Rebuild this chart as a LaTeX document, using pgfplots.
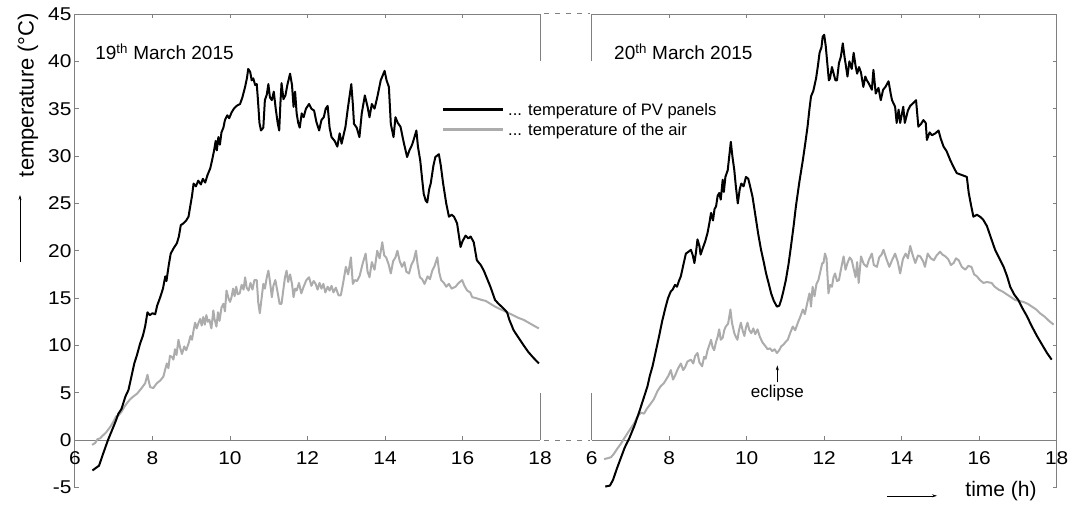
\documentclass[border=0pt]{standalone}
\usepackage{pgfplots}
\usepackage{pgfplotstable}
\pgfplotsset{compat=1.18}
\usepackage{fontspec}
\setmainfont{Liberation Sans}
\newfontfamily\tickfont[FakeStretch=1.13]{Liberation Sans}
\usetikzlibrary{arrows.meta}

\definecolor{framegray}{RGB}{128,128,128}
\definecolor{airgray}{RGB}{172,172,172}

% 19 March 2015: temperature of the PV panels
\pgfplotstableread{
t T
6.45 -3.2
6.55 -2.9
6.62 -2.7
6.72 -1.5
6.85 0.0
6.95 1.0
7.05 2.0
7.12 2.8
7.20 3.3
7.30 4.6
7.38 5.3
7.45 6.6
7.53 8.1
7.60 9.0
7.68 10.2
7.75 11.0
7.81 12.0
7.87 13.5
7.93 13.2
8.00 13.4
8.07 13.3
8.12 14.2
8.20 15.1
8.27 16.0
8.33 17.3
8.36 16.8
8.42 18.5
8.47 19.7
8.55 20.3
8.63 20.8
8.68 21.5
8.73 22.7
8.80 22.9
8.87 23.2
8.93 23.6
8.97 24.6
9.02 25.8
9.06 27.1
9.12 26.8
9.18 27.4
9.25 27.0
9.30 27.6
9.36 27.2
9.42 28.0
9.49 28.7
9.54 29.6
9.59 30.6
9.63 31.6
9.66 30.6
9.70 32.0
9.74 31.2
9.78 32.5
9.83 33.0
9.87 33.8
9.93 34.3
9.98 34.0
10.04 34.6
10.10 35.0
10.17 35.3
10.26 35.5
10.32 36.2
10.39 37.3
10.44 38.3
10.47 39.2
10.52 38.9
10.56 38.0
10.60 38.2
10.65 37.5
10.69 37.6
10.72 36.0
10.76 33.5
10.80 32.7
10.86 33.0
10.90 35.9
10.95 36.5
10.99 37.6
11.03 36.2
11.08 35.9
11.13 36.8
11.18 35.0
11.23 33.5
11.27 32.7
11.30 35.5
11.33 37.7
11.38 36.0
11.43 36.4
11.48 37.5
11.55 38.7
11.60 37.5
11.64 35.2
11.68 36.8
11.72 34.5
11.76 33.5
11.80 33.0
11.85 34.5
11.90 34.1
11.96 35.0
12.04 35.5
12.10 35.0
12.17 34.8
12.23 33.6
12.30 32.7
12.36 33.8
12.42 34.1
12.47 35.0
12.52 35.3
12.57 33.0
12.62 32.0
12.70 31.6
12.77 31.0
12.83 32.4
12.88 31.3
12.93 32.2
12.98 33.1
13.04 35.0
13.13 37.6
13.17 35.5
13.20 33.4
13.27 33.0
13.34 32.0
13.40 34.5
13.48 36.4
13.55 35.2
13.60 34.1
13.66 35.5
13.73 35.0
13.80 36.2
13.89 38.0
13.94 38.5
13.99 39.0
14.04 38.0
14.10 37.3
14.15 33.4
14.22 32.0
14.27 34.1
14.33 33.5
14.40 33.1
14.48 31.5
14.57 29.9
14.63 30.6
14.70 31.2
14.76 32.0
14.81 32.7
14.85 31.0
14.91 29.5
14.96 27.5
15.00 26.0
15.05 25.3
15.09 25.1
15.14 26.5
15.18 27.1
15.25 29.0
15.30 29.9
15.39 30.2
15.44 29.0
15.50 27.1
15.58 25.0
15.65 23.6
15.72 23.8
15.78 23.6
15.86 22.9
15.95 20.4
16.00 21.0
16.08 21.6
16.15 21.3
16.21 21.5
16.29 20.9
16.37 19.0
16.47 18.5
16.55 17.9
16.64 17.0
16.72 16.2
16.84 14.8
16.93 14.4
17.06 13.9
17.15 13.5
17.21 12.7
17.32 11.6
17.45 10.8
17.58 10.0
17.70 9.3
17.83 8.7
17.97 8.1
}\pvA

% 19 March 2015: temperature of the air
\pgfplotstableread{
t T
6.44 -0.5
6.52 -0.3
6.58 0.1
6.65 0.2
6.72 0.5
6.80 0.8
6.91 1.4
7.00 2.0
7.06 2.5
7.12 2.6
7.20 3.0
7.27 3.5
7.34 3.9
7.42 4.3
7.50 4.6
7.60 4.9
7.70 5.4
7.81 6.0
7.87 6.9
7.90 6.3
7.94 5.6
8.02 5.5
8.11 6.0
8.20 6.3
8.28 6.7
8.33 7.5
8.37 8.1
8.41 7.6
8.45 8.9
8.50 8.8
8.54 8.5
8.58 9.6
8.62 9.0
8.67 10.6
8.71 9.8
8.76 9.1
8.82 9.9
8.87 9.5
8.93 10.2
8.98 11.0
9.02 10.6
9.06 11.6
9.10 12.4
9.14 11.8
9.18 12.3
9.23 12.8
9.27 12.1
9.31 13.0
9.35 12.2
9.39 13.2
9.43 12.5
9.47 12.7
9.52 11.8
9.57 13.7
9.60 12.8
9.65 12.0
9.69 13.5
9.73 12.6
9.78 14.0
9.83 14.4
9.87 13.6
9.91 15.8
9.96 15.0
10.00 14.6
10.04 15.1
10.08 16.0
10.12 15.2
10.16 16.2
10.20 15.4
10.25 15.5
10.30 16.4
10.35 15.9
10.39 17.2
10.43 16.1
10.48 15.8
10.53 16.6
10.58 15.9
10.63 16.9
10.69 16.9
10.73 14.5
10.77 13.4
10.81 14.8
10.86 16.5
10.90 16.0
10.95 17.2
10.99 17.9
11.03 16.8
11.08 15.1
11.12 16.3
11.17 16.9
11.22 15.8
11.28 14.4
11.33 14.4
11.38 16.0
11.42 17.2
11.46 17.9
11.50 16.7
11.55 17.5
11.60 16.5
11.64 15.1
11.68 16.0
11.72 15.8
11.78 16.6
11.84 15.5
11.90 16.2
11.97 16.9
12.04 17.2
12.10 16.3
12.16 16.8
12.21 16.5
12.26 15.9
12.31 16.6
12.36 16.0
12.41 16.5
12.46 15.6
12.52 16.2
12.57 15.8
12.62 16.3
12.67 15.6
12.73 16.1
12.80 15.3
12.86 15.3
12.92 16.6
12.99 18.3
13.05 17.5
13.12 19.3
13.17 16.5
13.22 16.9
13.28 16.8
13.35 17.4
13.42 18.6
13.50 19.7
13.55 17.8
13.60 17.2
13.66 18.8
13.73 18.0
13.80 20.0
13.86 19.2
13.93 20.9
13.98 19.5
14.03 19.3
14.09 18.6
14.15 17.6
14.21 18.9
14.27 19.3
14.32 20.0
14.38 18.9
14.44 18.3
14.50 18.8
14.55 17.8
14.62 17.6
14.68 18.5
14.74 19.0
14.80 20.0
14.84 18.6
14.90 17.2
14.96 17.0
15.02 16.5
15.10 17.3
15.16 17.0
15.22 17.9
15.28 18.4
15.35 19.3
15.40 17.7
15.45 16.9
15.52 16.6
15.58 16.2
15.65 16.5
15.72 16.0
15.82 16.2
15.90 16.6
15.99 16.9
16.05 16.3
16.12 15.8
16.20 15.6
16.25 15.1
16.35 15.0
16.50 14.8
16.60 14.7
16.72 14.4
16.84 14.1
16.94 13.9
17.05 13.7
17.15 13.5
17.30 13.2
17.45 12.9
17.58 12.7
17.75 12.3
17.88 12.0
17.97 11.8
}\airA

% 20 March 2015: temperature of the PV panels
\pgfplotstableread{
t T
6.35 -4.9
6.47 -4.8
6.55 -4.2
6.65 -3.0
6.75 -1.9
6.85 -0.8
6.97 0.2
7.10 1.5
7.22 2.9
7.33 4.3
7.44 5.7
7.50 6.8
7.57 7.8
7.65 9.3
7.74 11.0
7.82 12.6
7.91 14.1
7.97 15.0
8.04 15.7
8.09 15.9
8.15 16.4
8.20 16.2
8.25 16.8
8.30 17.3
8.37 18.6
8.43 19.7
8.50 19.9
8.56 20.1
8.61 19.5
8.65 18.7
8.69 19.8
8.73 21.2
8.78 20.5
8.81 19.6
8.86 20.2
8.93 21.0
8.99 21.9
9.04 23.0
9.08 24.0
9.13 23.2
9.17 24.4
9.21 24.7
9.25 25.8
9.29 26.1
9.33 25.4
9.38 27.5
9.41 26.2
9.45 27.8
9.51 28.5
9.55 30.0
9.59 31.5
9.63 30.0
9.68 28.5
9.72 26.8
9.77 25.0
9.82 26.5
9.86 27.1
9.92 26.8
9.98 27.8
10.04 27.6
10.10 26.6
10.15 25.7
10.24 23.3
10.30 21.7
10.37 20.1
10.44 18.8
10.50 17.6
10.57 16.5
10.63 15.5
10.70 14.7
10.78 14.1
10.84 14.2
10.89 14.8
10.95 15.8
11.01 16.9
11.08 18.6
11.14 20.4
11.21 22.6
11.27 24.7
11.36 27.3
11.45 29.6
11.51 31.3
11.57 33.1
11.62 35.0
11.66 36.3
11.72 36.9
11.79 38.2
11.84 39.6
11.88 40.9
11.93 41.5
11.96 42.6
12.00 42.8
12.04 41.6
12.08 39.8
12.12 38.0
12.15 38.2
12.20 39.4
12.25 38.6
12.29 38.0
12.33 38.0
12.38 39.8
12.43 40.5
12.48 41.9
12.52 40.6
12.55 39.8
12.60 38.4
12.65 40.0
12.71 39.2
12.76 40.9
12.81 39.5
12.85 38.7
12.90 39.4
12.95 38.8
13.01 37.3
13.06 38.4
13.10 38.0
13.16 37.6
13.23 37.0
13.27 39.1
13.33 36.6
13.40 37.2
13.46 35.9
13.52 37.0
13.58 37.3
13.66 37.9
13.72 36.5
13.75 35.9
13.83 35.2
13.87 33.5
13.92 34.9
13.96 33.5
14.04 35.2
14.08 33.5
14.16 34.8
14.22 35.3
14.30 35.6
14.37 35.9
14.43 33.1
14.50 33.4
14.56 33.8
14.62 33.5
14.65 31.7
14.72 32.5
14.78 32.2
14.87 32.4
14.95 32.7
15.01 31.8
15.08 31.0
15.16 30.5
15.25 29.6
15.33 28.9
15.42 28.2
15.55 28.0
15.68 27.8
15.73 26.1
15.79 24.8
15.85 23.6
15.94 23.8
16.02 23.6
16.10 23.3
16.20 22.6
16.30 21.4
16.41 20.1
16.52 19.2
16.63 18.3
16.72 17.3
16.80 16.2
16.90 15.4
17.01 14.8
17.12 13.9
17.23 13.1
17.36 12.0
17.49 11.0
17.62 10.1
17.75 9.2
17.87 8.5
}\pvB

% 20 March 2015: temperature of the air
\pgfplotstableread{
t T
6.32 -2.0
6.42 -1.9
6.50 -1.8
6.58 -1.4
6.66 -0.9
6.75 -0.4
6.84 0.2
6.92 0.7
7.00 1.2
7.10 1.8
7.18 2.5
7.27 2.9
7.35 2.8
7.42 3.3
7.53 3.9
7.60 4.3
7.70 5.2
7.78 5.7
7.86 6.0
7.92 6.4
7.98 6.8
8.04 7.4
8.10 6.4
8.16 6.9
8.22 7.5
8.30 8.1
8.36 7.4
8.41 7.7
8.47 8.3
8.56 8.5
8.62 8.1
8.67 8.9
8.73 9.2
8.78 8.2
8.85 7.8
8.90 8.8
8.94 8.6
8.99 9.5
9.04 10.1
9.08 10.6
9.12 9.8
9.16 9.5
9.21 10.4
9.25 10.9
9.29 11.7
9.33 10.6
9.38 10.8
9.42 11.6
9.46 12.0
9.52 12.3
9.58 13.8
9.62 12.4
9.68 11.3
9.72 10.9
9.76 10.6
9.80 11.6
9.85 12.4
9.90 11.5
9.94 11.0
9.98 11.9
10.02 12.4
10.07 11.6
10.12 11.3
10.17 11.8
10.22 11.2
10.28 11.7
10.34 10.9
10.41 10.3
10.47 10.0
10.54 9.6
10.60 9.7
10.66 9.4
10.72 9.6
10.78 9.2
10.84 9.5
10.89 9.9
10.95 10.1
11.01 10.4
11.06 10.6
11.12 11.3
11.19 12.0
11.25 11.6
11.32 12.4
11.38 13.0
11.45 13.8
11.50 13.3
11.58 14.8
11.62 15.5
11.66 14.1
11.70 16.2
11.75 15.2
11.80 16.5
11.85 16.9
11.90 17.8
11.95 18.7
11.98 18.7
12.02 19.7
12.06 19.2
12.11 15.5
12.15 16.4
12.20 16.2
12.24 17.2
12.28 17.6
12.33 16.8
12.38 16.9
12.44 18.2
12.50 19.4
12.55 18.0
12.60 18.7
12.66 19.3
12.71 19.0
12.76 18.1
12.81 17.2
12.85 18.8
12.89 16.6
12.95 19.4
13.02 18.6
13.10 18.3
13.15 19.0
13.23 19.7
13.28 18.5
13.36 18.3
13.42 19.3
13.48 19.6
13.53 20.1
13.60 19.2
13.68 18.3
13.75 19.0
13.83 19.7
13.90 18.8
13.96 17.6
14.03 19.1
14.10 19.7
14.16 19.2
14.22 20.5
14.28 19.6
14.35 18.7
14.42 19.5
14.48 19.4
14.55 18.9
14.60 18.3
14.67 19.7
14.75 19.2
14.83 19.0
14.90 19.5
14.99 19.9
15.05 19.6
15.13 19.4
15.20 19.1
15.27 18.5
15.34 18.7
15.40 19.2
15.47 19.0
15.55 18.3
15.64 18.0
15.72 18.4
15.80 18.3
15.87 17.5
15.94 17.3
16.02 16.9
16.11 16.6
16.20 16.7
16.32 16.6
16.40 16.2
16.50 15.9
16.60 15.7
16.71 15.4
16.82 15.1
16.93 14.8
17.04 14.7
17.14 14.6
17.25 14.4
17.36 14.1
17.47 13.8
17.57 13.4
17.70 13.0
17.80 12.6
17.92 12.2
}\airB

\tikzset{
  frame/.style={draw=framegray, line width=1pt},
  pv/.style={black, line width=2pt, line join=round},
  air/.style={airgray, line width=2pt, line join=round},
}

\pgfplotsset{
  day panel/.style={
    scale only axis, width=465pt, height=473.5pt,
    xmin=6, xmax=18, ymin=-5, ymax=45,
    axis x line=middle,
    tick style={draw=framegray, line width=1pt},
    major tick length=4pt,
    xtick={6,8,...,18}, ytick={-5,0,...,45},
    hide obscured x ticks=false, hide obscured y ticks=false,
    ticklabel style={font=\tickfont\fontsize{18.5}{20}\selectfont, black},
    xticklabel style={yshift=-8pt},
    /pgf/number format/assume math mode=true,
    clip=false,
  },
  plain lines/.style={
    axis line style={draw=framegray, line width=1pt, -},
    x axis line style={-},
    y axis line style={-},
    every inner x axis line/.append style={-},
    every outer x axis line/.append style={-},
    every inner y axis line/.append style={-},
    every outer y axis line/.append style={-},
    xtick align=inside, ytick align=inside,
  },
}

\begin{document}
\begin{tikzpicture}
\path[use as bounding box] (-75pt,-16.5pt) rectangle (995pt,487.5pt);

% ---- 19 March 2015 ----
\begin{axis}[day panel, at={(0pt,0pt)}, anchor=south west,
  axis y line=left, plain lines]
  \addplot[air] table[x=t, y=T] {\airA};
  \addplot[pv] table[x=t, y=T] {\pvA};
  \draw[frame] (axis cs:6,45) -- (axis cs:18,45) -- (axis cs:18,40);
  \draw[frame] (axis cs:18,5) -- (axis cs:18,0);
  \pgfplotsinvokeforeach{8,10,12,14,16}{
    \draw[frame] (axis cs:#1,45) -- ++(0pt,-4pt);
  }
  \node[anchor=west, inner sep=0pt, font=\fontsize{19}{21}\selectfont]
    at (axis cs:6.52,41) {19\textsuperscript{th} March 2015};
\end{axis}

% ---- 20 March 2015 ----
\begin{axis}[day panel, at={(516.7pt,0pt)}, anchor=south west,
  axis y line=right, yticklabels={}, plain lines]
  \addplot[air] table[x=t, y=T] {\airB};
  \addplot[pv] table[x=t, y=T] {\pvB};
  \draw[frame] (axis cs:6,40) -- (axis cs:6,45) -- (axis cs:18,45);
  \draw[frame] (axis cs:6,5) -- (axis cs:6,0);
  \pgfplotsinvokeforeach{8,10,12,14,16}{
    \draw[frame] (axis cs:#1,45) -- ++(0pt,-4pt);
  }
  \node[anchor=west, inner sep=0pt, font=\fontsize{19}{21}\selectfont]
    at (axis cs:6.575,41) {20\textsuperscript{th} March 2015};
  \draw[-{Stealth[length=5pt,width=3pt]}, black, line width=0.6pt]
    (axis cs:10.79,6.1) -- (axis cs:10.79,7.9);
  \node[inner sep=0pt, font=\fontsize{17}{19}\selectfont]
    at (axis cs:10.79,5.0) {eclipse};
\end{axis}

% broken frame between the two days
\draw[frame, dash pattern=on 5pt off 6pt] (469pt,473.5pt) -- (515pt,473.5pt);
\draw[frame, dash pattern=on 5pt off 6pt] (469pt,47.35pt) -- (515pt,47.35pt);

% legend
\draw[black, line width=3pt] (368pt,377.5pt) -- (428pt,377.5pt);
\draw[airgray, line width=3pt] (368pt,357.5pt) -- (428pt,357.5pt);
\node[anchor=base west, inner sep=0pt, font=\fontsize{16.6}{18}\selectfont]
  at (433pt,371.5pt) {... temperature of PV panels};
\node[anchor=base west, inner sep=0pt, font=\fontsize{16.6}{18}\selectfont]
  at (433pt,351.5pt) {... temperature of the air};

% axis titles with direction arrows
\node[rotate=90, inner sep=0pt, font=\fontsize{22}{24}\selectfont]
  at (-47pt,392.5pt) {temperature (°C)};
\draw[-{Stealth[length=5pt,width=3pt]}, black, line width=0.6pt]
  (-55pt,225.5pt) -- (-55pt,292.5pt);
\node[inner sep=0pt, font=\fontsize{21}{23}\selectfont]
  at (926pt,-3.5pt) {time (h)};
\draw[-{Stealth[length=5pt,width=3pt]}, black, line width=0.6pt]
  (812pt,-8.3pt) -- (862pt,-8.3pt);
\end{tikzpicture}
\end{document}
